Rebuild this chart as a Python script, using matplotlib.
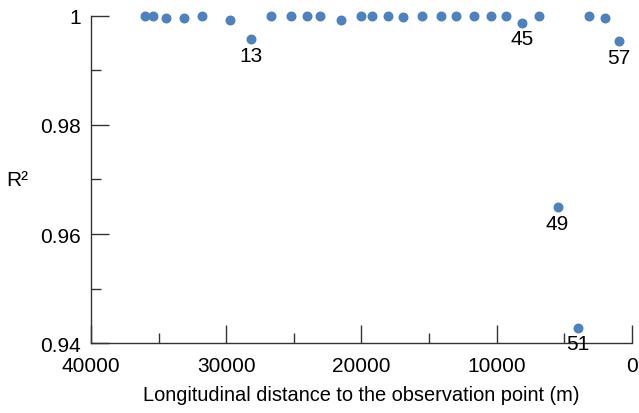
import matplotlib
matplotlib.use("Agg")
import matplotlib.pyplot as plt
from matplotlib.ticker import MultipleLocator

# distance to the observation point (m) and fit quality
distance = [35970, 35400, 34470, 33160, 31800, 29750, 28160, 26700, 25240,
            24060, 23080, 21490, 20070, 19250, 18020, 16920, 15530, 14130,
            13020, 11660, 10430, 9340, 8110, 6900, 5500, 4020, 3160, 1980, 940]
r2 = [1.0000, 1.0000, 0.9995, 0.9996, 1.0000, 0.9992, 0.9957, 1.0000, 1.0000,
      1.0000, 1.0000, 0.9993, 1.0000, 1.0000, 1.0000, 0.9998, 1.0000, 1.0000,
      1.0000, 1.0000, 1.0000, 1.0000, 0.9987, 0.9999, 0.9649, 0.9428, 1.0000,
      0.9996, 0.9953]
# labelled outliers (index into the lists above, label)
outliers = [(6, '13'), (22, '45'), (24, '49'), (25, '51'), (28, '57')]

plt.rcParams['font.family'] = ['Liberation Sans', 'DejaVu Sans']

fig = plt.figure(figsize=(6.39, 4.14), dpi=100)
ax = fig.add_axes([0.1424, 0.1684, 0.8466, 0.7913])

ax.scatter(distance, r2, s=38, color='#4f81bd', zorder=3, clip_on=False)

for i, lab in outliers:
    ax.annotate(lab, (distance[i], r2[i]), xytext=(0, -11.5),
                textcoords='offset points', ha='center', va='center',
                fontsize=15, annotation_clip=False, zorder=4)

ax.set_xlim(40000, 0)
ax.set_ylim(0.94, 1.0)
ax.xaxis.set_major_locator(MultipleLocator(10000))
ax.xaxis.set_minor_locator(MultipleLocator(5000))
ax.yaxis.set_minor_locator(MultipleLocator(0.01))
ax.set_yticks([0.94, 0.96, 0.98, 1.0])
ax.set_yticklabels(['0.94', '0.96', '0.98', '1'])

ax.spines['top'].set_visible(False)
ax.spines['right'].set_visible(False)
for s in ['left', 'bottom']:
    ax.spines[s].set_color('#333333')
    ax.spines[s].set_linewidth(1.0)

ax.tick_params(which='major', direction='in', length=13, width=1,
               color='#333333', labelsize=15)
ax.tick_params(which='minor', direction='in', length=7, width=1,
               color='#333333')
ax.tick_params(axis='y', which='major', pad=7)
ax.tick_params(axis='x', which='major', pad=9)

ax.set_xlabel('Longitudinal distance to the observation point (m)',
              fontsize=14.4, va='top')
ax.xaxis.set_label_coords(0.5, -0.128)
ax.set_ylabel('R²', fontsize=15, rotation=0, ha='center', va='center')
ax.yaxis.set_label_coords(-0.137, 0.5)

fig.savefig('out.png', dpi=100)
